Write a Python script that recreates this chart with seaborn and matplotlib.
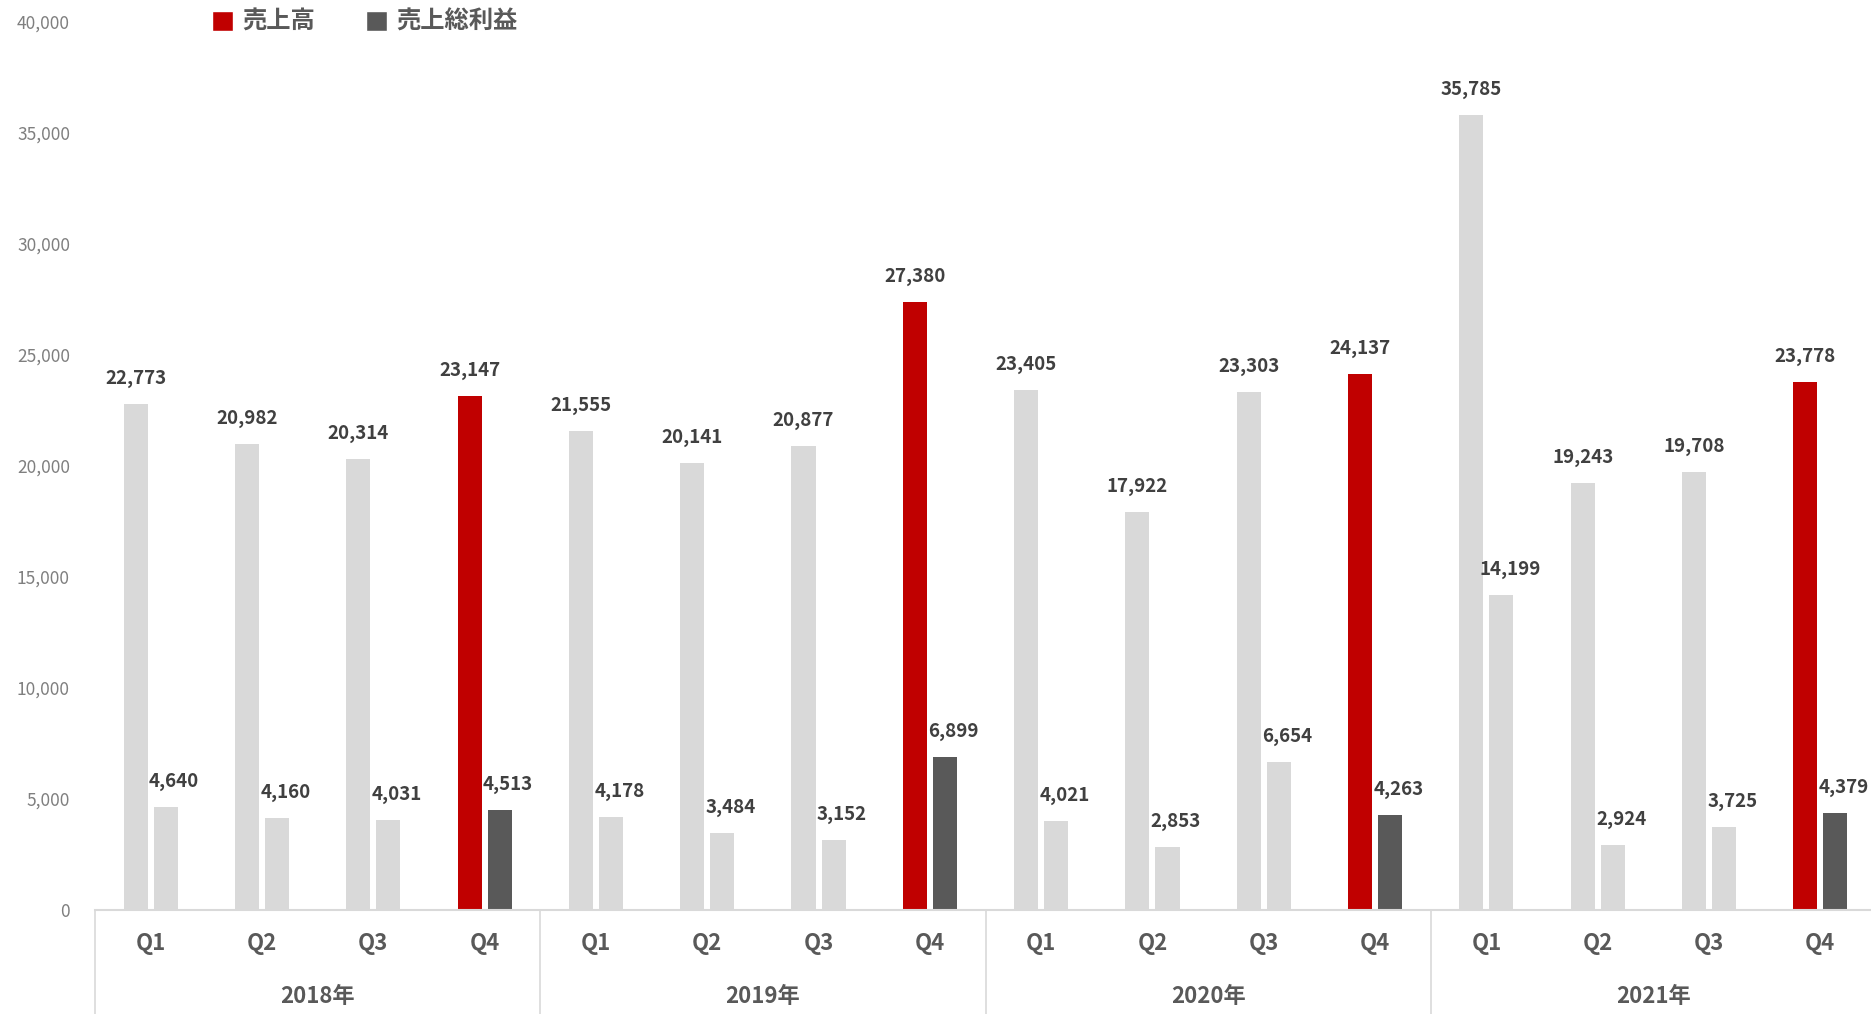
import pandas as pd
import numpy as np
import matplotlib
matplotlib.use('Agg')
import matplotlib.pyplot as plt
from matplotlib.patches import Patch
import seaborn as sns

# データ
years = ['2018年', '2019年', '2020年', '2021年']
quarters = ['Q1', 'Q2', 'Q3', 'Q4']
sales = [22773, 20982, 20314, 23147,
         21555, 20141, 20877, 27380,
         23405, 17922, 23303, 24137,
         35785, 19243, 19708, 23778]
gross_profit = [4640, 4160, 4031, 4513,
                4178, 3484, 3152, 6899,
                4021, 2853, 6654, 4263,
                14199, 2924, 3725, 4379]
series_names = ['売上高', '売上総利益']

# 色
c_light = '#D9D9D9'
c_red = '#C00000'
c_dark = '#595959'
c_text = '#404040'

periods = [f'{y}{q}' for y in years for q in quarters]
df = pd.DataFrame({'period': periods * 2,
                   'series': [series_names[0]] * 16 + [series_names[1]] * 16,
                   'value': sales + gross_profit})

sns.set_style('white')
plt.rcParams['font.family'] = ['Noto Sans CJK JP', 'DejaVu Sans']

fig = plt.figure(figsize=(18.71, 10.14), dpi=100)
ax = fig.add_axes([95 / 1871, 1 - 910 / 1014, 1781 / 1871, 888.5 / 1014])

sns.barplot(df, x='period', y='value', hue='series', order=periods,
            palette=[c_light, c_light], width=0.54, gap=0.2,
            legend=False, ax=ax)

# Q4だけ強調
for k, cont in enumerate(ax.containers):
    for i, bar in enumerate(cont.patches):
        if i % 4 == 3:
            bar.set_facecolor(c_red if k == 0 else c_dark)
        else:
            bar.set_facecolor(c_light)
        bar.set_edgecolor('none')

# データラベル
for k, (cont, vals) in enumerate(zip(ax.containers, [sales, gross_profit])):
    for bar, v in zip(cont.patches, vals):
        cx = bar.get_x() + bar.get_width() / 2
        ax.annotate(f'{v:,}', xy=(cx, v), xytext=(0 if k == 0 else 6, 14.5),
                    textcoords='offset points', ha='center', va='baseline',
                    fontsize=13.5, fontweight='bold', color=c_text)

ax.set_ylim(0, 40000)
ax.set_xlim(-0.5, 15.5)
ax.set_yticks(np.arange(0, 40001, 5000))
ax.yaxis.set_major_formatter(matplotlib.ticker.FuncFormatter(lambda v, p: f'{int(v):,}'))
ax.tick_params(axis='y', length=0, pad=18, labelsize=12.5, labelcolor='#7F7F7F')
ax.set_xticks(range(16), quarters * 4)
ax.tick_params(axis='x', length=0, pad=16, labelsize=16, labelcolor=c_dark)
for t in ax.get_xticklabels():
    t.set_fontweight('bold')
ax.set_xlabel('')
ax.set_ylabel('')

for s in ['top', 'right', 'left']:
    ax.spines[s].set_visible(False)
ax.spines['bottom'].set_color(c_light)
ax.spines['bottom'].set_linewidth(1.5)

# 年の区切りとラベル
trans = ax.get_xaxis_transform()
for b in [-0.5, 3.5, 7.5, 11.5, 15.5]:
    ax.plot([b, b], [0, -0.13], transform=trans, color=c_light, lw=1.2, clip_on=False)
for j, y in enumerate(years):
    ax.text(j * 4 + 1.5, -0.0968, y, transform=trans, ha='center', va='center',
            fontsize=16, fontweight='bold', color=c_dark)

# 凡例
handles = [Patch(facecolor=c_red, label=series_names[0]),
           Patch(facecolor=c_dark, label=series_names[1])]
leg = fig.legend(handles=handles, loc='center left', ncol=2, frameon=False,
                 bbox_to_anchor=(200 / 1871, 1 - 22 / 1014), borderpad=0,
                 handlelength=0.85, handleheight=0.9, handletextpad=0.4,
                 columnspacing=2.1, prop={'size': 17.5, 'weight': 'bold'})
for t in leg.get_texts():
    t.set_color(c_dark)

fig.savefig('out.png', dpi=100)
